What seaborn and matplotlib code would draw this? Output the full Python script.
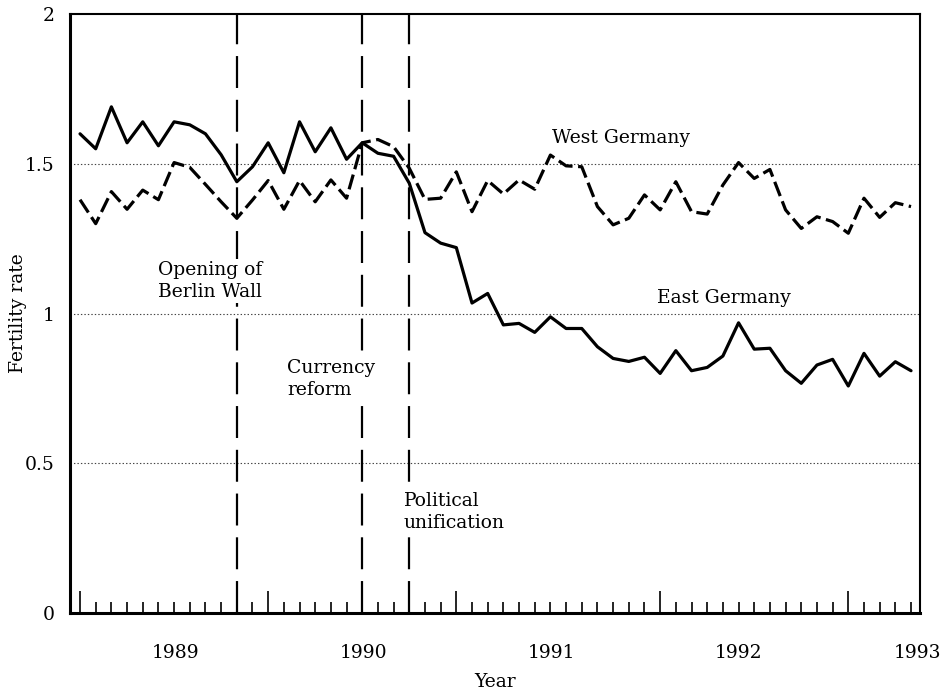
import matplotlib
matplotlib.use('Agg')
import matplotlib.pyplot as plt
import seaborn as sns
import numpy as np
import pandas as pd
from matplotlib.ticker import FixedLocator, FuncFormatter

# monthly fertility rates, Jan 1989 .. Jun 1993 (month index 0 = Jan 1989)
months = list(range(54))
east = [1.60, 1.55, 1.69, 1.57, 1.64, 1.56, 1.64, 1.63, 1.60, 1.53,
        1.44, 1.49, 1.57, 1.47, 1.64, 1.54, 1.62, 1.515, 1.57, 1.535,
        1.525, 1.435, 1.27, 1.235, 1.22, 1.035, 1.067, 0.962, 0.967, 0.937,
        0.989, 0.95, 0.95, 0.889, 0.85, 0.84, 0.854, 0.80, 0.876, 0.809,
        0.82, 0.858, 0.969, 0.881, 0.884, 0.809, 0.767, 0.828, 0.847, 0.758,
        0.867, 0.791, 0.839, 0.809]
west = [1.38, 1.30, 1.407, 1.348, 1.412, 1.38, 1.504, 1.488, 1.431, 1.373,
        1.318, 1.379, 1.444, 1.348, 1.444, 1.373, 1.446, 1.385, 1.57, 1.581,
        1.557, 1.485, 1.381, 1.385, 1.473, 1.34, 1.444, 1.399, 1.446, 1.415,
        1.529, 1.493, 1.49, 1.357, 1.296, 1.318, 1.396, 1.346, 1.44, 1.34,
        1.332, 1.429, 1.504, 1.451, 1.481, 1.346, 1.284, 1.323, 1.307, 1.268,
        1.385, 1.321, 1.37, 1.357]

events = [10, 18, 21]  # Nov 1989, Jul 1990, Oct 1990
event_labels = ['Opening of\nBerlin Wall', 'Currency\nreform', 'Political\nunification']
event_label_pos = [(4.97, 1.108), (13.2, 0.782), (20.66, 0.338)]
series_labels = ['West Germany', 'East Germany']
series_label_pos = [(30.08, 1.585), (36.78, 1.051)]

year_labels = ['1989', '1990', '1991', '1992', '1993']
year_label_pos = [6.1, 18.1, 30.1, 42, 53.4]
long_ticks = [0, 12, 24, 37, 49]
yticks = [0, 0.5, 1, 1.5, 2]

sns.set_style('white')
plt.rcParams['font.family'] = ['DejaVu Serif']
plt.rcParams['lines.scale_dashes'] = False
for k in ['text.color', 'axes.labelcolor', 'xtick.color', 'ytick.color']:
    plt.rcParams[k] = 'black'

df = pd.DataFrame({'month': months, 'East': east, 'West': west})

fig = plt.figure(figsize=(9.42, 6.93), dpi=100)
ax = fig.add_axes([0.0743, 0.1154, 0.9023, 0.8644])

for y in [0.5, 1, 1.5]:
    ax.axhline(y, color='#444444', lw=0.8, ls=(0, (1, 1.5)), zorder=1)

for xv in events:
    ax.axvline(xv, color='black', lw=1.6, ls=(0, (23, 8.5)), zorder=2)

sns.lineplot(data=df, x='month', y='East', ax=ax, color='black', lw=2.3, zorder=3)
sns.lineplot(data=df, x='month', y='West', ax=ax, color='black', lw=2.3,
             linestyle=(0, (11, 4)), zorder=3)

fs = 13.5
for txt, (tx, ty) in zip(event_labels, event_label_pos):
    ax.text(tx, ty, txt, ha='left', va='center', fontsize=fs, linespacing=1.3,
            bbox=dict(facecolor='white', edgecolor='none', pad=1.5), zorder=4)
for txt, (tx, ty) in zip(series_labels, series_label_pos):
    ax.text(tx, ty, txt, ha='left', va='center', fontsize=fs, zorder=4)

ax.set_xlim(-0.64, 53.57)
ax.set_ylim(0, 2)

ax.xaxis.set_major_locator(FixedLocator(long_ticks))
ax.xaxis.set_minor_locator(FixedLocator([m for m in months if m not in long_ticks]))
ax.xaxis.set_major_formatter(FuncFormatter(lambda v, p: ''))
ax.tick_params(axis='x', which='major', direction='in', length=16, width=1.2,
               bottom=True)
ax.tick_params(axis='x', which='minor', direction='in', length=8, width=1.2,
               bottom=True)

ax.set_yticks(yticks)
ax.yaxis.set_major_formatter(FuncFormatter(lambda v, p: '%g' % v))
ax.tick_params(axis='y', length=0, pad=11, labelsize=fs)

sec = ax.secondary_xaxis('bottom')
sec.set_xticks(year_label_pos, labels=year_labels)
sec.tick_params(length=0, pad=22, labelsize=fs)
sec.spines['bottom'].set_visible(False)
sec.set_xlabel('Year', fontsize=fs, labelpad=8)

ax.set_xlabel('')
ax.set_ylabel('Fertility rate', fontsize=fs)
ax.yaxis.set_label_coords(-0.051, 0.5)

for side in ['left', 'bottom']:
    ax.spines[side].set_linewidth(2.2)
for side in ['top', 'right']:
    ax.spines[side].set_linewidth(1.5)
for s in ax.spines.values():
    s.set_color('black')
    s.set_visible(True)

fig.savefig('out.png', dpi=100)
